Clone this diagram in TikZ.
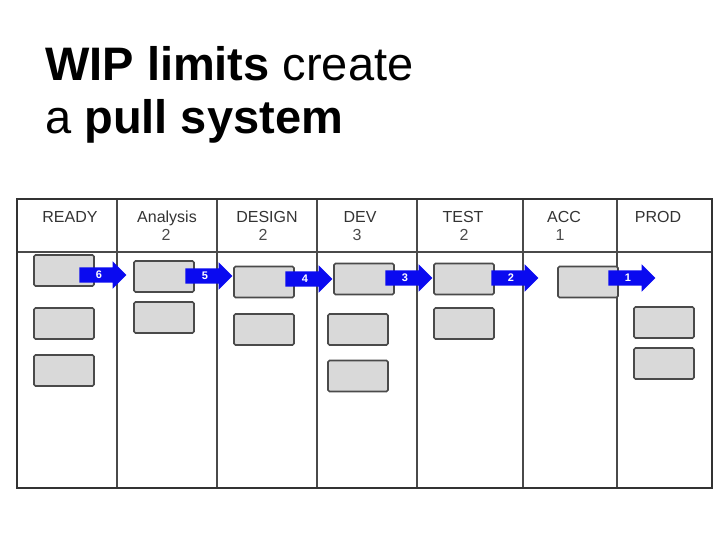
\documentclass[tikz,border=0pt]{standalone}
\usepackage{fontspec}
\setmainfont{Liberation Sans}
\usetikzlibrary{shapes.arrows}

\definecolor{cardfill}{HTML}{D9D9D9}
\definecolor{cardline}{HTML}{4A4A4A}
\definecolor{boardline}{HTML}{333333}
\definecolor{flowblue}{HTML}{0A0AF0}

\tikzset{
  card/.style={draw=cardline, fill=cardfill, rounded corners=1.5pt, line width=1.6pt,
    minimum width=60pt, minimum height=31pt, inner sep=0pt},
  flow/.style={single arrow, fill=flowblue, draw=none, minimum height=47pt,
    single arrow head extend=6pt, inner xsep=2pt, inner ysep=4pt,
    text height=7pt, text depth=0pt, text=white,
    font=\bfseries\fontsize{11}{11}\selectfont},
  colhead/.style={anchor=base, text=boardline, font=\fontsize{16}{16}\selectfont, inner sep=0pt},
  limit/.style={anchor=base, text=cardline, font=\fontsize{16}{16}\selectfont, inner sep=0pt},
  title/.style={anchor=base west, inner sep=0pt, font=\fontsize{47}{53}\selectfont}
}

\begin{document}
\begin{tikzpicture}[x=1pt, y=-1pt]
\useasboundingbox (0,0) rectangle (728,546);

% title
\path (45,80) node[title] (t1) {\textbf{WIP limits} create}
      (45,133) node[title] (t2) {a \textbf{pull system}};

% board
\draw[cardline, line width=1.5pt] (17,252) -- (712,252);
\foreach \x in {117,217,317,417,523,617}
  \draw[cardline, line width=1.5pt] (\x,199) -- (\x,488);
\draw[boardline, line width=2.5pt] (17,199) rectangle (712,488);

% column heads
\path (70,222) node[colhead] (h0) {READY}
      (167,222) node[colhead] (h1) {Analysis}
      (267,222) node[colhead] (h2) {DESIGN}
      (360,222) node[colhead] (h3) {DEV}
      (463,222) node[colhead] (h4) {TEST}
      (564,222) node[colhead] (h5) {ACC}
      (658,222) node[colhead] (h6) {PROD}

      (166,240) node[limit] (l1) {2}
      (263,240) node[limit] (l2) {2}
      (357,240) node[limit] (l3) {3}
      (464,240) node[limit] (l4) {2}
      (560,240) node[limit] (l5) {1};

% cards
\path (64,270.5) node[card] (r1) {}
      (64,323.5) node[card] (r2) {}
      (64,370.5) node[card] (r3) {}
      (164,276.5) node[card] (a1) {}
      (164,317.5) node[card] (a2) {}
      (264,282) node[card] (d1) {}
      (264,329.5) node[card] (d2) {}
      (364,279) node[card] (v1) {}
      (358,329.5) node[card] (v2) {}
      (358,376) node[card] (v3) {}
      (464,279) node[card] (s1) {}
      (464,323.5) node[card] (s2) {}
      (588,282) node[card] (c1) {}
      (664,322.5) node[card] (p1) {}
      (664,363.5) node[card] (p2) {};

% pull arrows
\path (99,275) node[flow] (f6) {6}
      (205,276) node[flow] (f5) {5}
      (305,279) node[flow] (f4) {4}
      (405,278) node[flow] (f3) {3}
      (511,278) node[flow] (f2) {2}
      (628,278) node[flow] (f1) {1};

\end{tikzpicture}
\end{document}
